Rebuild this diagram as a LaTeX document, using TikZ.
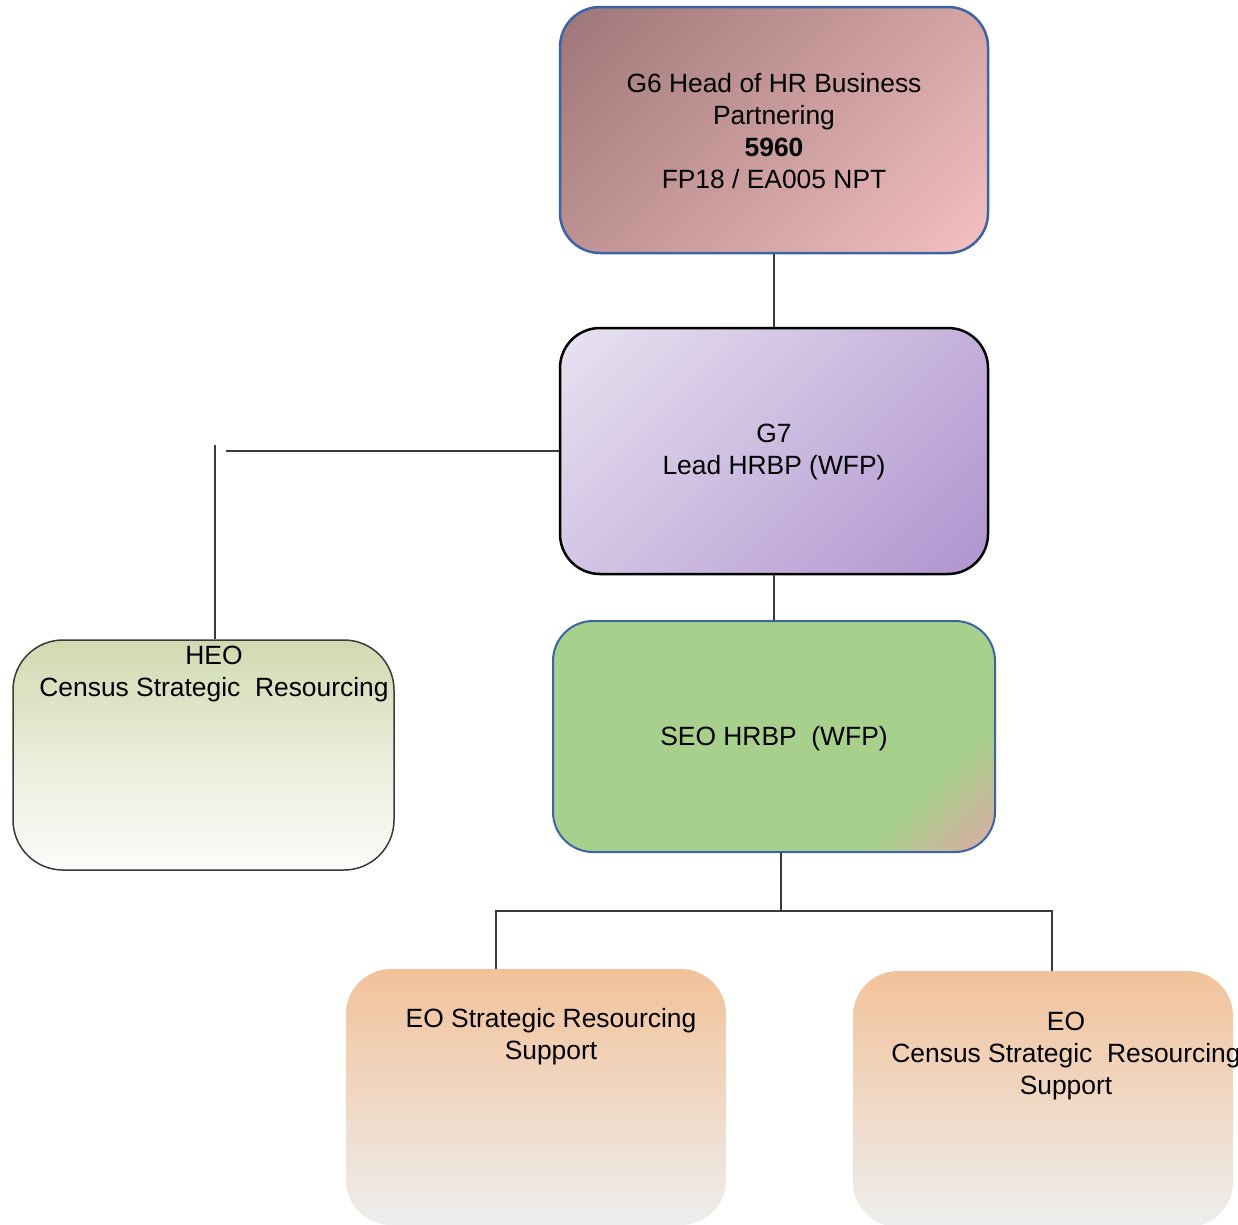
\documentclass[tikz,border=0pt]{standalone}
\usepackage{fontspec}
\setmainfont{Liberation Sans}
\usetikzlibrary{positioning}

\definecolor{gsixdark}{HTML}{9A7374}
\definecolor{gsixlight}{HTML}{F8C3C3}
\definecolor{gsixline}{HTML}{3C63A5}
\definecolor{gsevenlight}{HTML}{EAE5F2}
\definecolor{gsevendark}{HTML}{AC8ECD}
\definecolor{seogreen}{HTML}{A8D08D}
\definecolor{seotan}{HTML}{D6AEA2}
\definecolor{heotop}{HTML}{D0DAB0}
\definecolor{heobottom}{HTML}{FCFCFA}
\definecolor{eotop}{HTML}{F2C29A}
\definecolor{eobottom}{HTML}{EEEEEE}
\definecolor{linkgray}{HTML}{3A3A3A}

\pgfdeclarehorizontalshading{gsixshade}{100bp}{color(0bp)=(gsixdark); color(12bp)=(gsixdark); color(88bp)=(gsixlight); color(100bp)=(gsixlight)}
\pgfdeclarehorizontalshading{gsevenshade}{100bp}{color(0bp)=(gsevenlight); color(12bp)=(gsevenlight); color(90bp)=(gsevendark); color(100bp)=(gsevendark)}
\pgfdeclarehorizontalshading{seoshade}{100bp}{color(0bp)=(seogreen); color(72bp)=(seogreen); color(84bp)=(seotan); color(100bp)=(seotan)}

\tikzset{
  post/.style={rounded corners=40pt, inner sep=0pt, align=center, font=\fontsize{26.4}{32}\selectfont},
  lbl/.style={inner sep=0pt, align=center, font=\fontsize{26.4}{32}\selectfont},
  link/.style={draw=linkgray, line width=1.5pt}
}

\begin{document}
\begin{tikzpicture}[x=1pt, y=-1pt]
  \useasboundingbox (0,0) rectangle (1238,1224);
  \clip (0,0) rectangle (1238,1224);

  % top of the chart
  \node[post, minimum width=428pt, minimum height=246pt, draw=gsixline, line width=2.5pt, shade, shading=gsixshade, shading angle=-45] (gsix) at (774,130) {};
  \node[lbl] (gsixtxt) at (774,131) {G6 Head of HR Business\\Partnering\\\textbf{5960}\\FP18 / EA005 NPT};
  \node[post, minimum width=428pt, minimum height=246pt, draw=black, line width=2.5pt, shade, shading=gsevenshade, shading angle=-45] (gseven) at (774,451) {};
  \node[lbl] (gseventxt) at (774,452) {G7\\Lead HRBP (WFP)};
  \node[post, minimum width=442pt, minimum height=231pt, draw=gsixline, line width=2pt, shade, shading=seoshade, shading angle=-45] (seo) at (774,736.5) {};
  \node[lbl] (seotxt) at (774,739) {SEO HRBP\ \ (WFP)};

  % side and lower posts
  \node[post, rounded corners=50pt, minimum width=381pt, minimum height=230pt, draw=linkgray, line width=1.5pt, top color=heotop, bottom color=heobottom, middle color=heotop!45!heobottom] (heo) at (203.5,755) {};
  \node[lbl] (heotxt) at (214,674) {HEO\\Census Strategic\ \ Resourcing};
  \node[post, rounded corners=45pt, minimum width=380pt, minimum height=256pt, top color=eotop, bottom color=eobottom] (eoone) at (536,1097) {};
  \node[lbl] (eoonetxt) at (551,1037) {EO Strategic Resourcing\\Support};
  \node[post, rounded corners=45pt, minimum width=380pt, minimum height=256pt, top color=eotop, bottom color=eobottom] (eotwo) at (1043,1099) {};
  \node[lbl] (eotwotxt) at (1066,1056) {EO\\Census Strategic\ \ Resourcing\\Support};

  % lines
  \coordinate (heoend) at (226,451);
  \coordinate (heostart) at (215,445);
  \coordinate (split) at (781,911);
  \coordinate (busl) at (496,911);
  \coordinate (busr) at (1052,911);
  \draw[link] (gsix.south) -- (gseven.north);
  \draw[link] (gseven.west) -- (heoend);
  \draw[link] (heostart) -- (heostart |- heo.north);
  \draw[link] (gseven.south) -- (seo.north);
  \draw[link] (split |- seo.south) -- (split);
  \draw[link] (busl |- eoone.north) -- (busl) -- (busr) -- (busr |- eotwo.north);
\end{tikzpicture}
\end{document}
